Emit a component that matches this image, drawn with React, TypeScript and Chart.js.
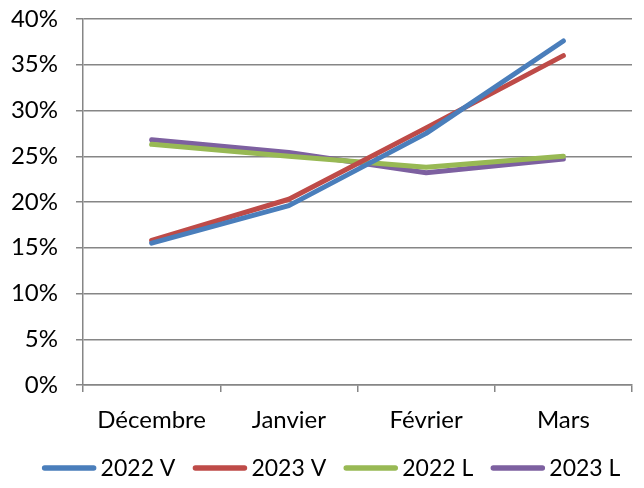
import React, { useEffect, useRef } from "react";
import { Chart, registerables } from "chart.js";

Chart.register(...registerables);

const categories = ["Décembre", "Janvier", "Février", "Mars"];
const v2022 = [15.5, 19.6, 27.5, 37.6];
const v2023 = [15.8, 20.3, 28.1, 36.0];
const l2022 = [26.3, 25.0, 23.8, 25.0];
const l2023 = [26.8, 25.4, 23.2, 24.7];
const seriesNames = ["2022 V", "2023 V", "2022 L", "2023 L"];
const seriesColors = ["#4A7EBB", "#BE4B48", "#98B954", "#7D60A0"];

const FONT_FAMILY = "Lato, 'Noto Sans', sans-serif";
const FONT_SIZE = 24;
const LEGEND_FONT_SIZE = 23;

const legendPlugin = {
  id: "customLegend",
  afterDraw(chart: any) {
    const ctx = chart.ctx;
    const datasets = chart.data.datasets;
    ctx.save();
    ctx.font = `${LEGEND_FONT_SIZE}px ${FONT_FAMILY}`;
    const lineLen = 55;
    const gap = 4;
    const spacing = 17;
    const widths = datasets.map((d: any) => ctx.measureText(d.label).width);
    const total =
      widths.reduce((a: number, b: number) => a + b, 0) +
      datasets.length * (lineLen + gap) +
      (datasets.length - 1) * spacing;
    let x = (chart.width - total) / 2 + 9;
    const y = 468;
    datasets.forEach((d: any, i: number) => {
      ctx.strokeStyle = d.borderColor;
      ctx.lineWidth = 5.5;
      ctx.lineCap = "round";
      ctx.beginPath();
      ctx.moveTo(x + 3, y);
      ctx.lineTo(x + lineLen - 3, y);
      ctx.stroke();
      ctx.fillStyle = "#000";
      ctx.textBaseline = "middle";
      ctx.textAlign = "left";
      ctx.fillText(d.label, x + lineLen + gap, y + 1);
      x += lineLen + gap + widths[i] + spacing;
    });
    ctx.restore();
  },
};

export default function App() {
  const ref = useRef<HTMLCanvasElement>(null);
  useEffect(() => {
    document.body.style.margin = "0";
    const ctx = ref.current!;
    const font = { family: FONT_FAMILY, size: FONT_SIZE };
    const data = [v2022, v2023, l2022, l2023];
    const chart = new Chart(ctx, {
      type: "line",
      data: {
        labels: categories,
        datasets: data.map((d, i) => ({
          label: seriesNames[i],
          data: d,
          borderColor: seriesColors[i],
          backgroundColor: seriesColors[i],
          borderWidth: 5,
          pointRadius: 0,
          borderCapStyle: "round" as const,
          borderJoinStyle: "round" as const,
          tension: 0,
        })),
      },
      plugins: [legendPlugin],
      options: {
        animation: false,
        responsive: false,
        maintainAspectRatio: false,
        layout: { padding: { top: 19, right: 12, left: 0, bottom: 43 } },
        plugins: {
          tooltip: { enabled: false },
          legend: { display: false },
        },
        scales: {
          x: {
            offset: true,
            grid: {
              offset: true,
              drawOnChartArea: false,
              drawTicks: true,
              tickLength: 7,
              color: "#868686",
              lineWidth: 1.5,
            },
            border: { color: "#868686", width: 1.5 },
            ticks: { font, color: "#000", padding: 14, maxRotation: 0 },
            afterFit: (s: any) => {
              s.height = 60;
              s.paddingLeft = 0;
              s.paddingRight = 0;
            },
          },
          y: {
            min: 0,
            max: 40,
            grid: {
              color: "#868686",
              lineWidth: 1.5,
              tickLength: 7,
            },
            border: { color: "#868686", width: 1.5 },
            ticks: {
              stepSize: 5,
              font,
              color: "#000",
              padding: 18,
              callback: (v: any) => v + "%",
            },
            afterFit: (s: any) => {
              s.width = 83;
              s.paddingTop = 0;
              s.paddingBottom = 0;
            },
          },
        },
      },
    });
    return () => chart.destroy();
  }, []);
  return (
    <div style={{ position: "absolute", left: 0, top: 0, width: 644, height: 488 }}>
      <canvas ref={ref} width={644} height={488} style={{ width: 644, height: 488 }} />
    </div>
  );
}
